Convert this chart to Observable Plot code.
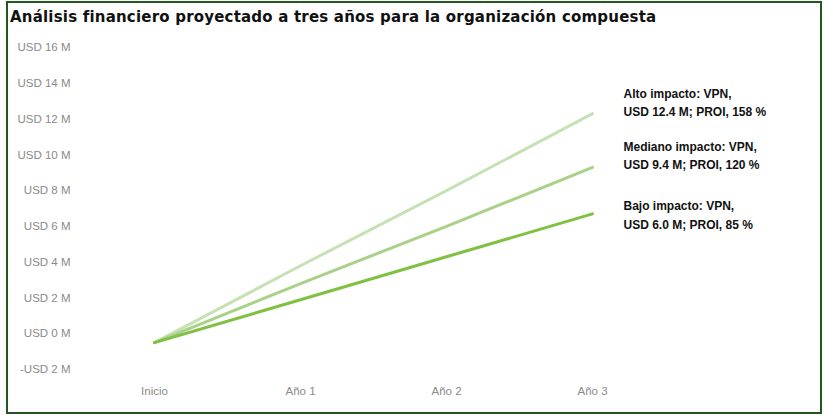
<!DOCTYPE html>
<html>
<head>
<meta charset="utf-8">
<script src="https://cdn.jsdelivr.net/npm/d3@7"></script>
<script src="https://cdn.jsdelivr.net/npm/@observablehq/plot@0.6"></script>
<style>
  html, body { margin: 0; padding: 0; background: #fff; }
  #wrap { position: relative; width: 825px; height: 415px; overflow: hidden; font-family: "Liberation Sans", Arial, sans-serif; }
  #frame { position: absolute; left: 6px; top: 1px; width: 812px; height: 409px; border: 2px solid #24561f; pointer-events: none; }
  #title { position: absolute; left: 10px; top: 8px; font-family: "DejaVu Sans", sans-serif; font-size: 15px; font-weight: bold; color: #111; white-space: nowrap; letter-spacing: 0.2px; }
  #chart { position: absolute; left: 0; top: 30px; }
</style>
</head>
<body>
<div id="wrap">
  <div id="title">Análisis financiero proyectado a tres años para la organización compuesta</div>
  <div id="chart"></div>
  <div id="frame"></div>
</div>
<script>
const periods = ["Inicio", "Año 1", "Año 2", "Año 3"];
const scenarios = ["Alto impacto", "Mediano impacto", "Bajo impacto"];
const altoValues = [-0.5, 3.8, 8.0, 12.3];
const medianoValues = [-0.5, 2.8, 6.0, 9.3];
const bajoValues = [-0.5, 1.9, 4.3, 6.7];
const labels = [
  "Alto impacto: VPN,\nUSD 12.4 M; PROI, 158 %",
  "Mediano impacto: VPN,\nUSD 9.4 M; PROI, 120 %",
  "Bajo impacto: VPN,\nUSD 6.0 M; PROI, 85 %"
];
const yTicks = [-2, 0, 2, 4, 6, 8, 10, 12, 14, 16];

const seriesValues = [altoValues, medianoValues, bajoValues];
const colors = ["#c6e1b3", "#a8d18a", "#80c042"];
const labelDy = [-12.5, -13.5, -0.5];

const rows = [];
scenarios.forEach((s, i) => {
  periods.forEach((p, j) => rows.push({scenario: s, period: p, value: seriesValues[i][j]}));
});
const ends = scenarios.map((s, i) => ({scenario: s, period: periods[periods.length - 1], value: seriesValues[i][periods.length - 1], label: labels[i], dy: labelDy[i]}));

const fmt = d => d < 0 ? `-USD ${-d} M` : `USD ${d} M`;

const marks = [];
scenarios.forEach((s, i) => {
  marks.push(Plot.line(rows.filter(r => r.scenario === s), {
    x: "period", y: "value", stroke: colors[i], strokeWidth: 3, strokeLinecap: "round"
  }));
});
ends.forEach(e => {
  marks.push(Plot.text([e], {
    x: "period", y: "value", text: "label", dx: 31, dy: e.dy,
    textAnchor: "start", fontSize: 12, fontWeight: "bold", fill: "#111", lineHeight: 1.55
  }));
});

const chart = Plot.plot({
  width: 825,
  height: 385,
  marginTop: 17,
  marginBottom: 46,
  marginLeft: 153,
  marginRight: 233,
  style: {fontFamily: "'Liberation Sans', Arial, sans-serif", fontSize: "11px", background: "transparent", overflow: "visible"},
  x: {type: "point", domain: periods, padding: 0, label: null},
  y: {domain: [-2, 16], label: null},
  marks: [
    Plot.axisX({tickSize: 0, tickPadding: 17, color: "#8a8a8a", fontSize: 11.5, label: null}),
    Plot.axisY({ticks: yTicks, tickFormat: fmt, tickSize: 0, tickPadding: 83, color: "#8a8a8a", fontSize: 11.5, label: null}),
    ...marks
  ]
});
document.getElementById("chart").appendChild(chart);
</script>
</body>
</html>
